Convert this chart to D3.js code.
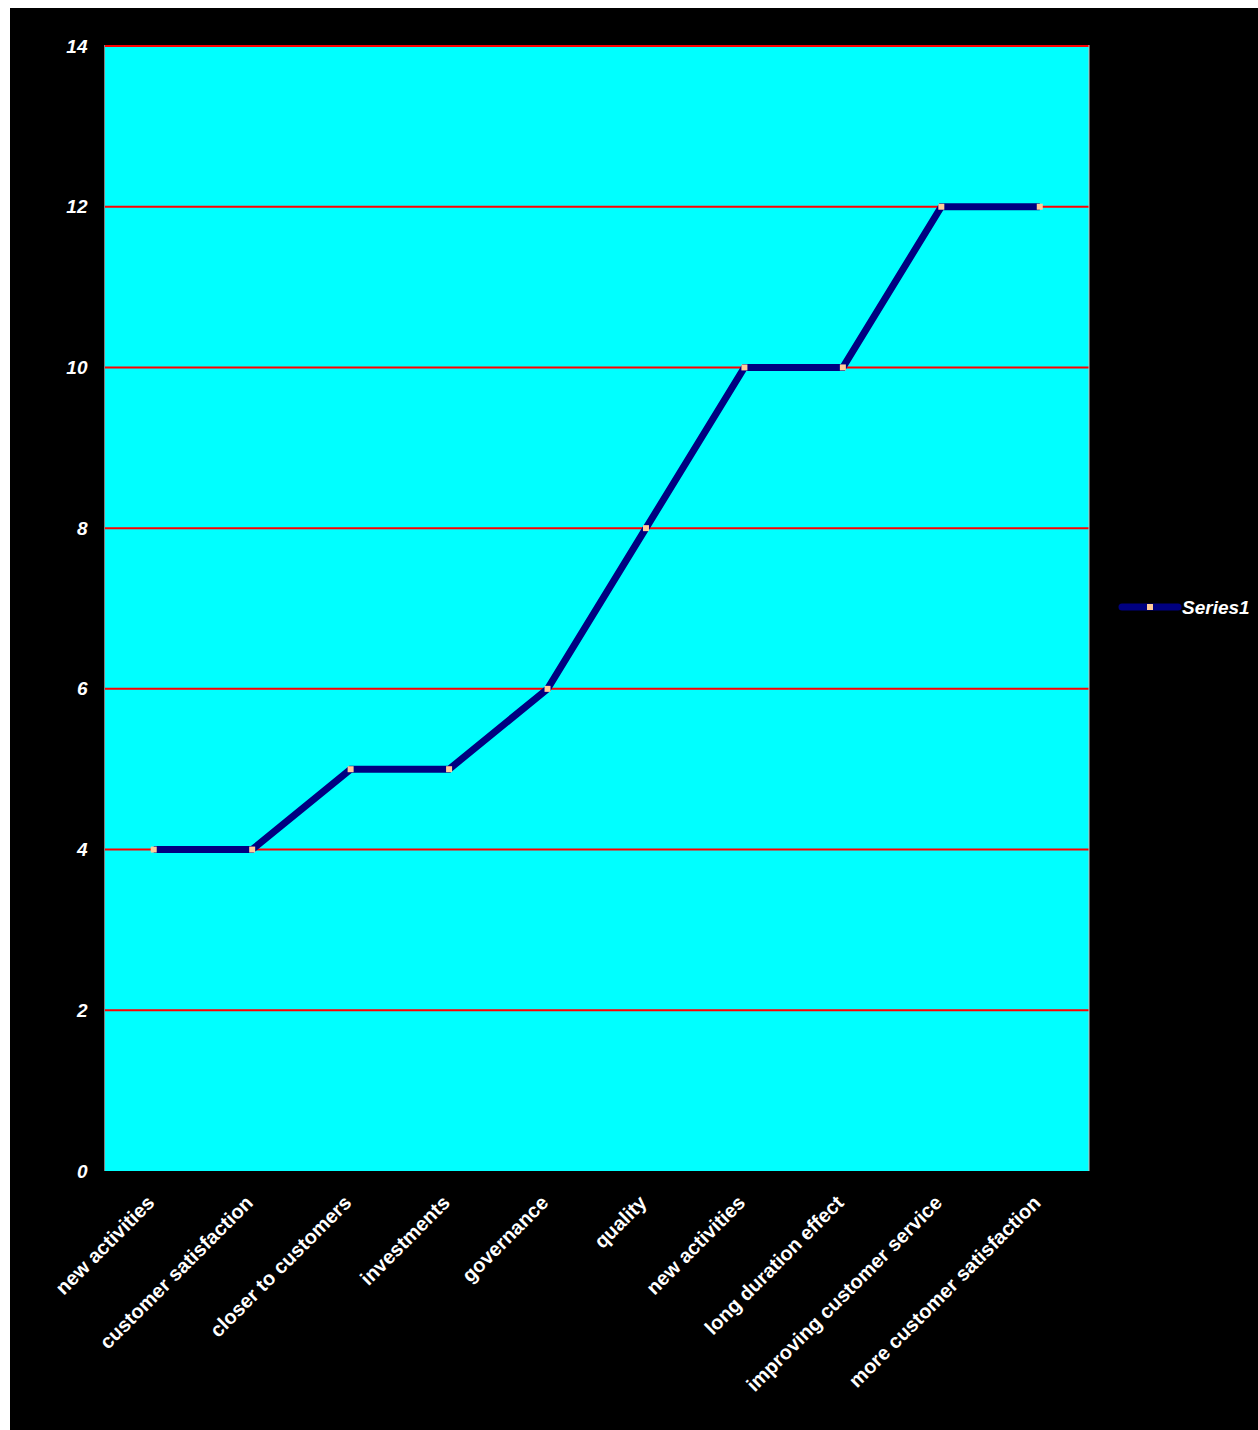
<!DOCTYPE html>
<html>
<head>
<meta charset="utf-8">
<script src="https://cdn.jsdelivr.net/npm/d3@7"></script>
<style>
  html, body { margin: 0; padding: 0; background: #ffffff; }
  svg { display: block; }
</style>
</head>
<body>
<svg id="chart" width="1258" height="1430"></svg>
<script>
// Categories along the x axis
const categories = [
  "new activities", "customer satisfaction", "closer to customers", "investments",
  "governance", "quality", "new activities", "long duration effect",
  "improving customer service", "more customer satisfaction"
];
// Series1 values
const series1 = [4, 4, 5, 5, 6, 8, 10, 10, 12, 12];
// Y tick values
const yTicks = [0, 2, 4, 6, 8, 10, 12, 14];
const seriesName = "Series1";

const svg = d3.select("#chart");
const W = 1258, H = 1430;
const FONT = "'Liberation Sans', Arial, sans-serif";

// White page margin, black chart area
svg.append("rect").attr("width", W).attr("height", H).attr("fill", "#ffffff");
svg.append("rect").attr("x", 10).attr("y", 8).attr("width", W - 10).attr("height", H - 8).attr("fill", "#000000");

const plot = { left: 104.5, right: 1089, top: 46, bottom: 1171 };

const x = d3.scaleBand()
  .domain(d3.range(categories.length))
  .range([plot.left, plot.right]);

const y = d3.scaleLinear()
  .domain([0, 14])
  .range([plot.bottom, plot.top]);

// Plot background
svg.append("rect")
  .attr("x", plot.left).attr("y", plot.top)
  .attr("width", plot.right - plot.left).attr("height", plot.bottom - plot.top)
  .attr("fill", "#00ffff");

// Horizontal gridlines
svg.append("g")
  .selectAll("line")
  .data(yTicks.filter(d => d > 0))
  .join("line")
  .attr("x1", plot.left).attr("x2", plot.right)
  .attr("y1", d => y(d)).attr("y2", d => y(d))
  .attr("stroke", "#ff0000")
  .attr("stroke-width", 2);

// Plot border (left/right)
svg.append("line")
  .attr("x1", plot.left).attr("x2", plot.left)
  .attr("y1", plot.top - 1).attr("y2", plot.bottom)
  .attr("stroke", "#808080").attr("stroke-width", 1);
svg.append("line")
  .attr("x1", plot.right).attr("x2", plot.right)
  .attr("y1", plot.top - 1).attr("y2", plot.bottom)
  .attr("stroke", "#c0c0c0").attr("stroke-width", 1);

// Y axis labels
const yAxis = d3.axisLeft(y).tickValues(yTicks).tickSize(0).tickPadding(17);
const gy = svg.append("g")
  .attr("transform", `translate(${plot.left},0)`)
  .call(yAxis)
  .attr("font-family", FONT)
  .attr("font-size", 19);
gy.select(".domain").remove();
gy.selectAll("text")
  .attr("fill", "#ffffff")
  .attr("font-weight", "bold")
  .attr("font-style", "italic");

// X axis labels, rotated
const xAxis = d3.axisBottom(x).tickFormat(i => categories[i]).tickSize(0).tickPadding(0);
const gx = svg.append("g")
  .attr("transform", `translate(0,${plot.bottom})`)
  .call(xAxis)
  .attr("font-family", FONT)
  .attr("font-size", 20);
gx.select(".domain").remove();
gx.selectAll("text")
  .attr("fill", "#ffffff")
  .attr("font-weight", "bold")
  .attr("text-anchor", "end")
  .attr("dy", null)
  .attr("y", 0)
  .attr("transform", "translate(2,33) rotate(-45)");

// Series line
const cx = i => x(i) + x.bandwidth() / 2;
const line = d3.line()
  .x((d, i) => cx(i))
  .y(d => y(d));

svg.append("path")
  .datum(series1)
  .attr("d", line)
  .attr("fill", "none")
  .attr("stroke", "#000080")
  .attr("stroke-width", 7)
  .attr("stroke-linejoin", "miter");

// Markers
svg.append("g")
  .selectAll("rect")
  .data(series1)
  .join("rect")
  .attr("x", (d, i) => cx(i) - 3)
  .attr("y", d => y(d) - 3)
  .attr("width", 6).attr("height", 6)
  .attr("fill", "#ffcc99");

// Legend
const lg = svg.append("g").attr("transform", "translate(1122,607)");
lg.append("line")
  .attr("x1", 0).attr("x2", 56)
  .attr("y1", 0).attr("y2", 0)
  .attr("stroke", "#000080").attr("stroke-width", 7)
  .attr("stroke-linecap", "round");
lg.append("rect")
  .attr("x", 25).attr("y", -3).attr("width", 6).attr("height", 6)
  .attr("fill", "#ffcc99");
lg.append("text")
  .attr("x", 60).attr("y", 7)
  .attr("fill", "#ffffff")
  .attr("font-family", FONT)
  .attr("font-size", 19)
  .attr("font-weight", "bold")
  .attr("font-style", "italic")
  .text(seriesName);
</script>
</body>
</html>
